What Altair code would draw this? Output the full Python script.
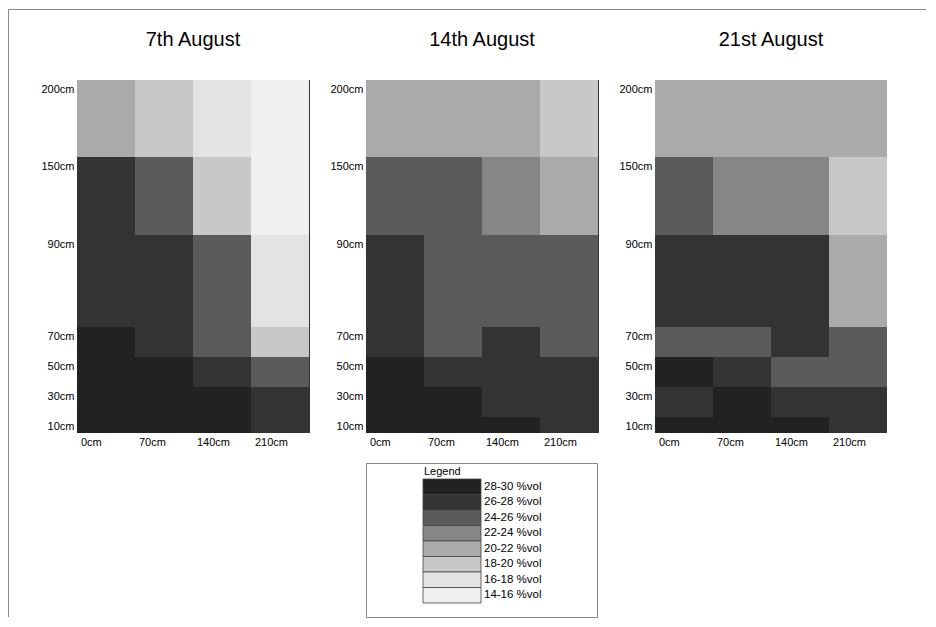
import altair as alt
import pandas as pd

# ---- data -------------------------------------------------------------
dates = ["7th August", "14th August", "21st August"]
depths = ["200cm", "150cm", "90cm", "70cm", "50cm", "30cm", "10cm"]
distances = ["0cm", "70cm", "140cm", "210cm"]

# class lower bounds (%vol), rows top (200cm) -> bottom (10cm), cols 0..210cm
aug07 = [
    [20, 18, 16, 14],
    [26, 24, 18, 14],
    [26, 26, 24, 16],
    [28, 26, 24, 18],
    [28, 28, 26, 24],
    [28, 28, 28, 26],
    [28, 28, 28, 26],
]
aug14 = [
    [20, 20, 20, 18],
    [24, 24, 22, 20],
    [26, 24, 24, 24],
    [26, 24, 26, 24],
    [28, 26, 26, 26],
    [28, 28, 26, 26],
    [28, 28, 28, 26],
]
aug21 = [
    [20, 20, 20, 20],
    [24, 22, 22, 18],
    [26, 26, 26, 20],
    [24, 24, 26, 24],
    [28, 26, 24, 24],
    [26, 28, 26, 26],
    [28, 28, 28, 26],
]

class_lows = [28, 26, 24, 22, 20, 18, 16, 14]
class_labels = [f"{c}-{c + 2} %vol" for c in class_lows]
grays = ["#222222", "#333333", "#5a5a5a", "#868686",
         "#aaaaaa", "#c8c8c8", "#e3e3e3", "#f0f0f0"]

# ---- layout (relative row heights of the depth bands) -----------------
row_units = [77, 78, 92, 30, 30, 30, 16]
row_starts = [sum(row_units[:i]) for i in range(len(row_units))]
total_units = sum(row_units)

FONT = "Liberation Sans"
PW, PH = 232, total_units
BAND = PW / len(distances)

color_scale = alt.Scale(domain=class_labels, range=grays)

label_expr = "".join(
    f"datum.value == {s} ? '{d}' : " for s, d in zip(row_starts, depths)
) + "''"

one = pd.DataFrame({"k": [0]})


def make_df(grid):
    recs = []
    for r, row in enumerate(grid):
        for c, v in enumerate(row):
            recs.append({
                "dist": distances[c],
                "depth": depths[r],
                "cls": f"{v}-{v + 2} %vol",
                "y0": row_starts[r],
                "y1": row_starts[r] + row_units[r],
            })
    return pd.DataFrame(recs)


def legend_layers():
    top = PH + 30          # legend box starts 30px below the panel
    leg_df = pd.DataFrame({"cls": class_labels})
    leg_y = alt.Y("cls:N", sort=class_labels, title=None, axis=None,
                  scale=alt.Scale(range=[top + 16, top + 140],
                                  paddingInner=0, paddingOuter=0))
    box = alt.Chart(one).mark_rect(fill="white", stroke="#888", strokeWidth=1).encode(
        x=alt.value(0.5), x2=alt.value(PW - 0.5), y=alt.value(top + 0.5),
        y2=alt.value(top + 154.5))
    sw = alt.Chart(leg_df).mark_rect(stroke="#444", strokeWidth=0.8).encode(
        x=alt.value(57), x2=alt.value(115), y=leg_y,
        color=alt.Color("cls:N", scale=color_scale, legend=None),
    )
    lab = alt.Chart(leg_df).mark_text(align="left", baseline="middle", fontSize=11.5,
                                      font=FONT, color="#000").encode(
        x=alt.value(118), y=leg_y, text="cls:N",
    )
    ttl = alt.Chart(pd.DataFrame({"t": ["Legend"]})).mark_text(
        align="left", baseline="middle", fontSize=11, font=FONT, color="#000"
    ).encode(x=alt.value(58), y=alt.value(top + 9), text="t:N")
    return [box, sw, lab, ttl]


def panel(title, grid, frame=False, legend=False, edge=True):
    heat = alt.Chart(make_df(grid)).mark_rect(strokeWidth=0).encode(
        x=alt.X("dist:N", sort=distances, title=None,
                scale=alt.Scale(paddingInner=0, paddingOuter=0),
                axis=alt.Axis(labelAlign="left", labelOffset=-BAND / 2 + 4,
                              labelAngle=0, ticks=False, domain=False,
                              labelPadding=3, labelFontSize=11,
                              labelColor="#000", labelFont=FONT)),
        y=alt.Y("y0:Q", title=None,
                scale=alt.Scale(domain=[0, total_units], reverse=True,
                                nice=False, zero=False),
                axis=alt.Axis(values=row_starts, labelExpr=label_expr,
                              labelBaseline="top", labelOffset=3,
                              ticks=False, domain=False, grid=False,
                              labelPadding=3, labelFontSize=11,
                              labelColor="#000", labelFont=FONT)),
        y2="y1:Q",
        color=alt.Color("cls:N", scale=color_scale, legend=None),
    )
    ttl = alt.Chart(pd.DataFrame({"t": [title]})).mark_text(
        align="center", baseline="alphabetic", fontSize=20, font=FONT, color="#000"
    ).encode(x=alt.value(PW / 2), y=alt.value(-34), text="t:N")
    layers = [heat, ttl]
    if edge:
        layers.append(alt.Chart(one).mark_rule(color="#333", strokeWidth=1).encode(
            x=alt.value(PW + 0.5), y=alt.value(0), y2=alt.value(PH)))
    if frame:
        layers.append(alt.Chart(one).mark_rule(color="#8a8a8a", strokeWidth=1).encode(
            x=alt.value(-68.5), x2=alt.value(849), y=alt.value(-70.5)))
        layers.append(alt.Chart(one).mark_rule(color="#8a8a8a", strokeWidth=1).encode(
            x=alt.value(-68.5), y=alt.value(-70.5), y2=alt.value(537)))
    if legend:
        layers += legend_layers()
    ch = alt.layer(*layers).properties(width=PW, height=PH)
    if legend:
        ch = ch.resolve_scale(y="independent")
    return ch


p1 = panel(dates[0], aug07, frame=True)
p2 = panel(dates[1], aug14, legend=True)
p3 = panel(dates[2], aug21, edge=False)

chart = alt.hconcat(p1, p2, p3, spacing=57, bounds="flush").properties(
    padding={"left": 0, "top": 1, "right": 0, "bottom": 0},
    background="white",
).configure_view(stroke=None)

chart.save("out.html", embed_options={"renderer": "svg", "actions": False})
